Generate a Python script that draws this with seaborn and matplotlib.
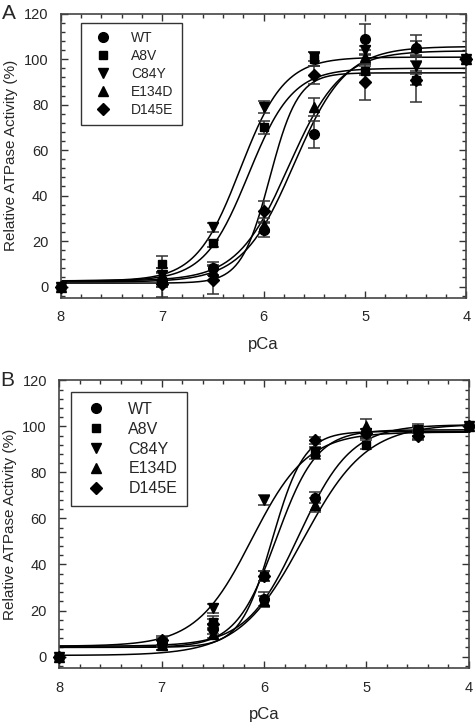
import numpy as np
import pandas as pd
import seaborn as sns
import matplotlib.pyplot as plt
from matplotlib.ticker import MultipleLocator

sns.set_theme(style="ticks")
plt.rcParams['font.family'] = ['Liberation Sans', 'DejaVu Sans']

pca = [8, 7, 6.5, 6, 5.5, 5, 4.5, 4]
variants = ["WT", "A8V", "C84Y", "E134D", "D145E"]
markers = ["o", "s", "v", "^", "D"]
msizes = [7, 6, 7, 7, 6]

# panel A: mean activity and error
a_wt = [0, 3, 8, 25, 67, 109, 105, 100]
a_a8v = [0, 10, 19, 70, 100, 95, 91, 100]
a_c84y = [0, 5, 26, 79, 101, 104, 97, 100]
a_e134d = [0, 4, 7, 27, 79, 101, 106, 100]
a_d145e = [0, 1, 3, 33, 93, 90, 91, 100]
a_err_wt = [0, 3, 3, 3, 6, 6.5, 3, 0]
a_err_a8v = [0, 3.5, 1.5, 3, 3, 2, 2.5, 0]
a_err_c84y = [0, 3, 2, 2.5, 2, 2, 2, 0]
a_err_e134d = [0, 4, 2, 3, 4, 3, 4.5, 0]
a_err_d145e = [0, 5.5, 6.5, 4.5, 4, 8, 10, 0]
# Hill fit parameters: pCa50, nH, bottom, top
a_pca50 = [5.70, 6.15, 6.23, 5.75, 5.94]
a_nh = [1.7, 2.0, 2.0, 1.7, 3.1]
a_bottom = [2.0, 2.5, 2.5, 2.5, 1.5]
a_top = [105.6, 96.0, 100.9, 103.7, 94.0]

# panel B
b_wt = [0, 6, 12, 25, 69, 97, 98, 100]
b_a8v = [0, 5, 15, 35, 88, 92, 99, 100]
b_c84y = [0, 5, 21, 68, 89, 97, 97, 100]
b_e134d = [0, 5, 10, 24, 66, 100, 98, 100]
b_d145e = [0, 7, 14, 35, 94, 97, 96, 100]
b_err_wt = [0, 2, 2, 3, 2.5, 2, 2, 0]
b_err_a8v = [0, 2, 2.5, 2, 2, 2, 2, 0]
b_err_c84y = [0, 2, 2, 2, 2, 2, 2.5, 0]
b_err_e134d = [0, 2, 2, 2.5, 3, 3, 2, 0]
b_err_d145e = [0, 2, 2.5, 2, 1.5, 2, 2, 0]
b_pca50 = [5.62, 5.88, 6.12, 5.66, 5.92]
b_nh = [1.4, 2.2, 1.6, 1.7, 2.8]
b_bottom = [0.5, 4.0, 4.5, 4.5, 4.0]
b_top = [101.0, 98.5, 97.5, 100.7, 97.8]


def hill(x, p50, n, lo, hi):
    return lo + (hi - lo) / (1 + 10 ** (n * (x - p50)))


def panel(ax, means, errs, p50s, nhs, los, his, legsize, legpos, spacing, label):
    xs = np.linspace(8, 4, 300)
    for i, v in enumerate(variants):
        fit = pd.DataFrame({"pCa": xs, "act": hill(xs, p50s[i], nhs[i], los[i], his[i])})
        sns.lineplot(data=fit, x="pCa", y="act", ax=ax, color="black", lw=1.1, legend=False)
    for i, v in enumerate(variants):
        ax.errorbar(pca, means[i], yerr=errs[i], fmt="none", ecolor="#333333",
                    elinewidth=1.1, capsize=4, capthick=1.1, zorder=3)
        ax.plot(pca, means[i], linestyle="none", marker=markers[i], ms=msizes[i],
                color="black", label=v, zorder=4, clip_on=False)
    ax.set_xlim(8, 4)
    ax.set_ylim(-5, 120)
    ax.xaxis.set_major_locator(MultipleLocator(1))
    ax.xaxis.set_minor_locator(MultipleLocator(0.2))
    ax.yaxis.set_major_locator(MultipleLocator(20))
    ax.yaxis.set_minor_locator(MultipleLocator(4))
    ax.tick_params(which="both", direction="in", top=True, right=True, labelsize=10.5,
                   color="#333333", width=1)
    ax.tick_params(which="major", length=5, pad=9)
    ax.tick_params(which="minor", length=3)
    for s in ax.spines.values():
        s.set_linewidth(1.2)
        s.set_color("#444444")
    ax.set_xlabel("pCa", fontsize=12, labelpad=9)
    ax.set_ylabel("Relative ATPase Activity (%)", fontsize=11)
    leg = ax.legend(loc="upper left", bbox_to_anchor=legpos, fontsize=legsize,
                    frameon=True, fancybox=False, edgecolor="black", borderaxespad=0,
                    handletextpad=1.0, borderpad=0.6, labelspacing=spacing)
    leg.get_frame().set_linewidth(1.0)
    ax.text(-0.145, 1.0, label, transform=ax.transAxes, fontsize=15, va="center")


fig = plt.figure(figsize=(4.75, 7.23), dpi=100)
ax1 = fig.add_axes([0.128, 0.588, 0.854, 0.393])
ax2 = fig.add_axes([0.125, 0.076, 0.862, 0.398])

panel(ax1, [a_wt, a_a8v, a_c84y, a_e134d, a_d145e],
      [a_err_wt, a_err_a8v, a_err_c84y, a_err_e134d, a_err_d145e],
      a_pca50, a_nh, a_bottom, a_top, 10, (0.05, 0.968), 0.28, "A")
panel(ax2, [b_wt, b_a8v, b_c84y, b_e134d, b_d145e],
      [b_err_wt, b_err_a8v, b_err_c84y, b_err_e134d, b_err_d145e],
      b_pca50, b_nh, b_bottom, b_top, 11.5, (0.028, 0.958), 0.3, "B")

fig.savefig("out.png", dpi=100)
